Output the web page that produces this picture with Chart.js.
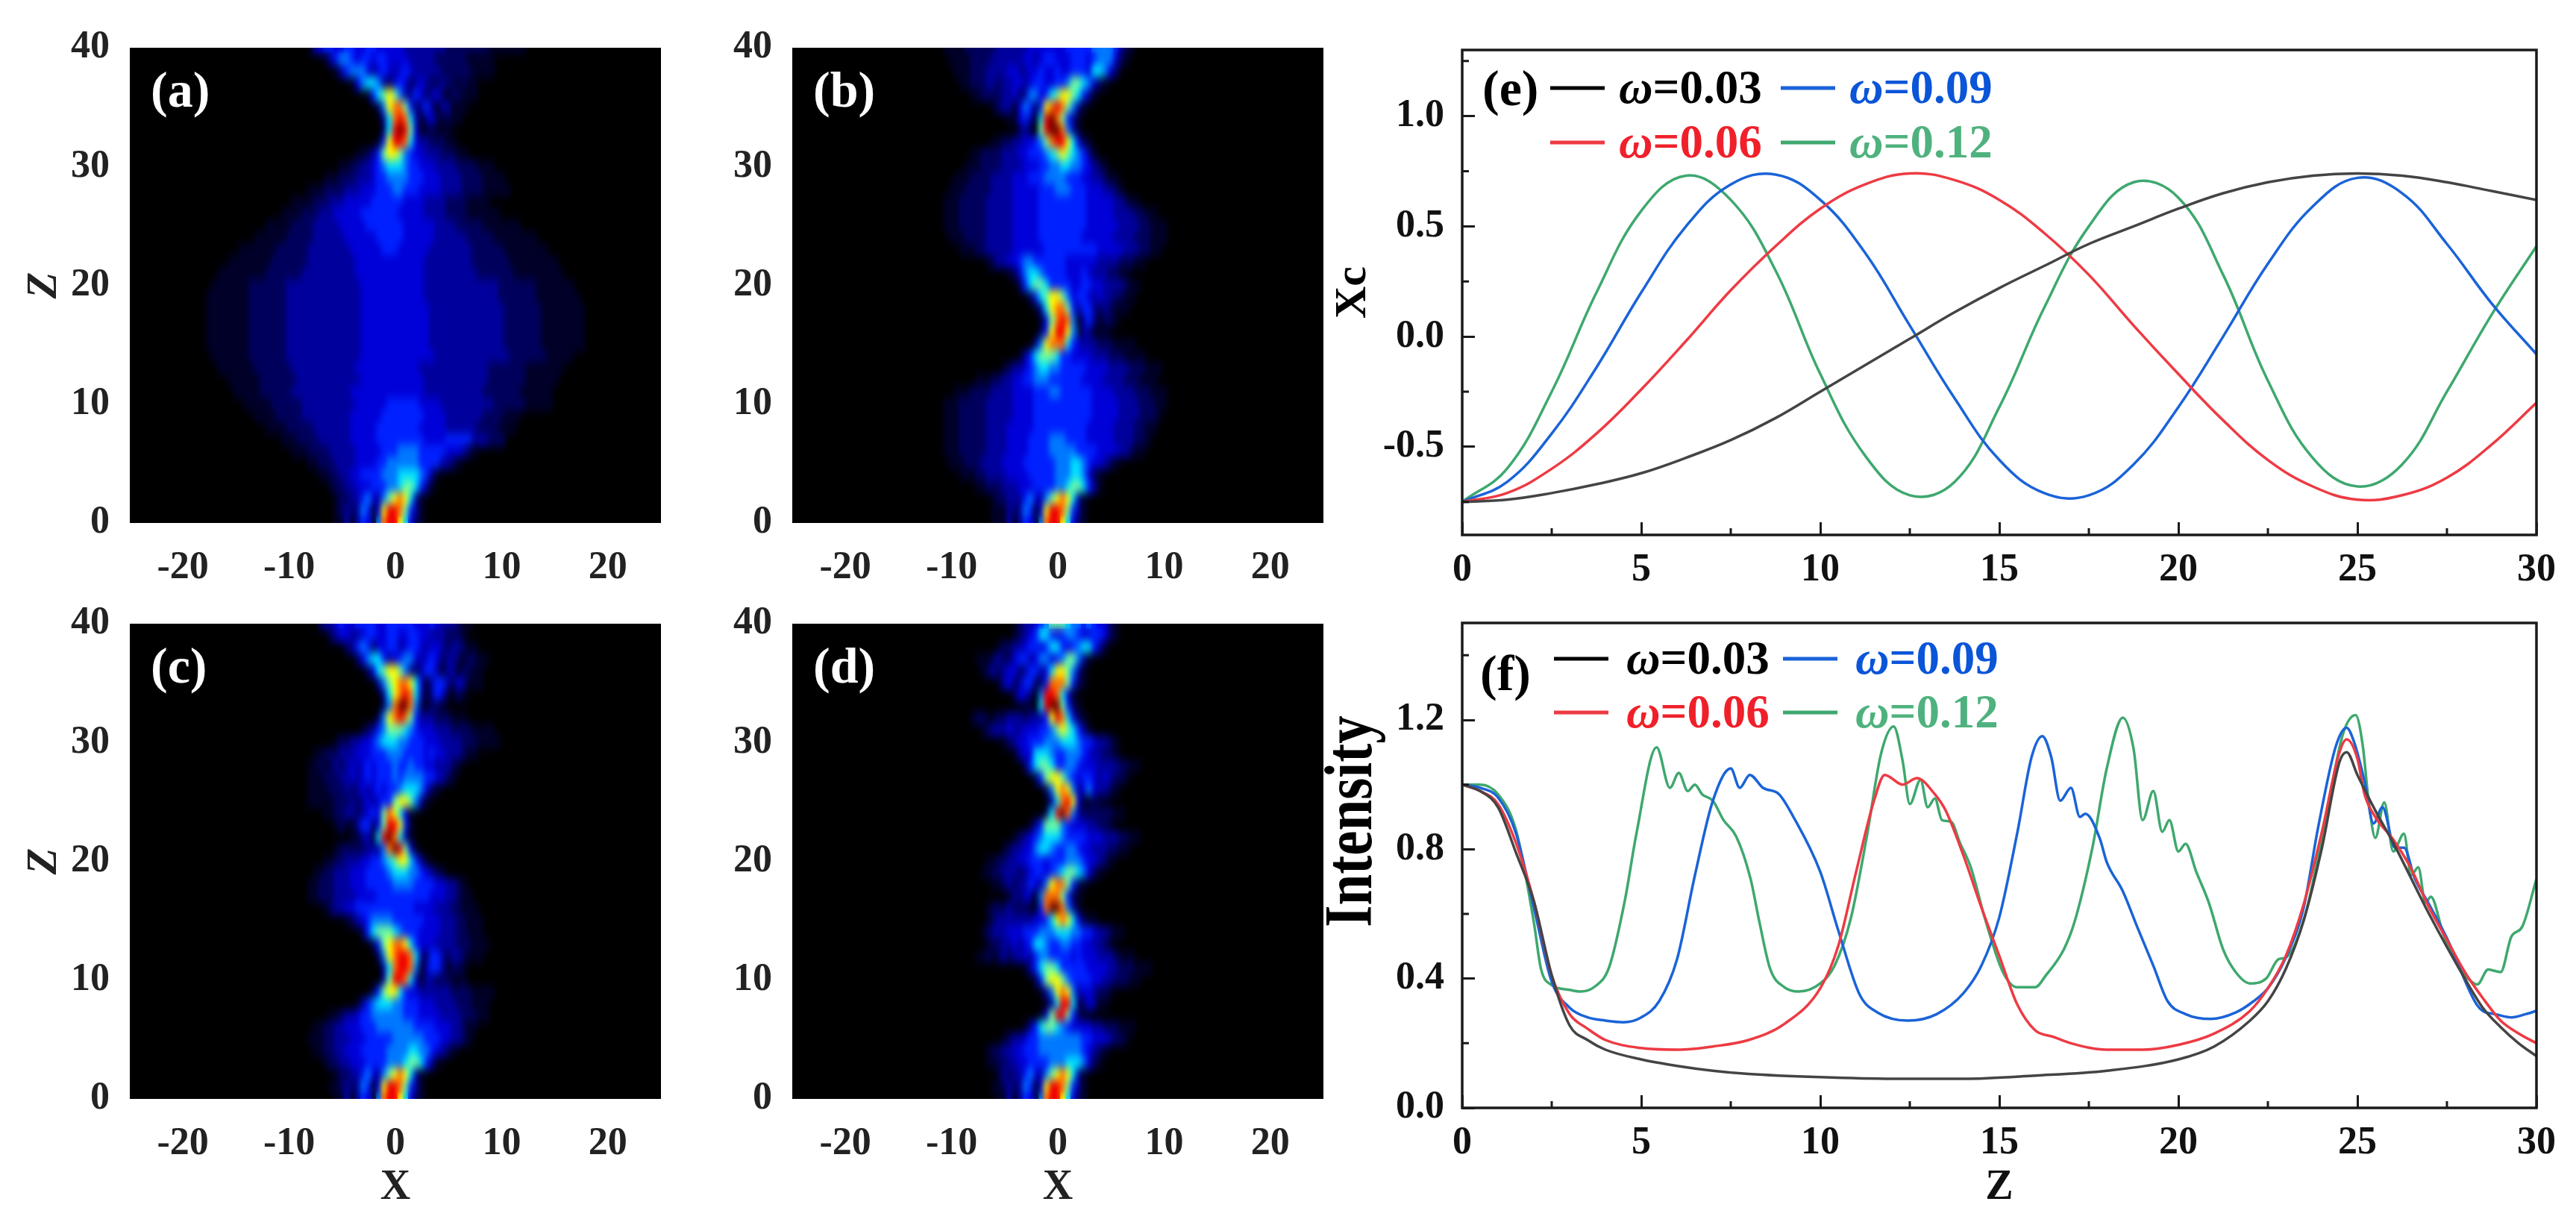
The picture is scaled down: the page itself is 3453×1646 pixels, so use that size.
<!DOCTYPE html>
<html>
<head>
<meta charset="utf-8">
<script src="https://cdn.jsdelivr.net/npm/chart.js@4"></script>
<style>
  html, body { margin: 0; padding: 0; background: #fff; width: 3453px; height: 1646px; overflow: hidden; }
  canvas { position: absolute; }
  svg { position: absolute; width: 0; height: 0; }
</style>
</head>
<body>
<svg><filter id="soft" x="0" y="0" width="100%" height="100%" color-interpolation-filters="sRGB"><feGaussianBlur stdDeviation="3.5 6.5" edgeMode="duplicate"/></filter></svg>
<canvas id="a"></canvas><canvas id="b"></canvas><canvas id="c"></canvas><canvas id="d"></canvas><canvas id="e"></canvas><canvas id="f"></canvas>
<script>
// tick labels
const heatXTicks = [-20, -10, 0, 10, 20];
const heatZTicks = [0, 10, 20, 30, 40];
const lineZTicks = [0, 5, 10, 15, 20, 25, 30];
const lineZMinor = [2.5, 7.5, 12.5, 17.5, 22.5, 27.5];
const xcTicks = [-0.5, 0, 0.5, 1];
const xcMinor = [-0.75, -0.25, 0.25, 0.75, 1.25];
const intTicks = [0, 0.4, 0.8, 1.2];
const intMinor = [0.2, 0.6, 1, 1.4];

// intensity levels of the maps, 0 is black, c is the darkest red
const heatColors = ['#000000', '#000028', '#00005c', '#00009c', '#0000d8', '#0020ff', '#0078ff', '#00e0ff', '#70ffa0', '#ffff00', '#ff7000', '#f00000', '#700000'];

// one row per z from 40 down to 0: first x of the row, then a level every 0.5 in x
const heatA = [
  [-8, '13455445544554444433333333222222221111111'],
  [-6.5, '13566545545544443333322222211111'],
  [-5.5, '135666434543454333332222221111'],
  [-4, '146776324542343223221211'],
  [-2.5, '157898633542342122111'],
  [-1.5, '269aa852353133111'],
  [-1, '37aba7303421211'],
  [-1, '27bcb84112111'],
  [-1.5, '159bba743322211'],
  [-3.5, '112358998654433322211'],
  [-5, '11223345677765544433332222111'],
  [-6.5, '1112223334556666555444333322221111'],
  [-8, '11122223334445556655544443333222211111'],
  [-9.5, '1111222333444445555554444333322221111'],
  [-10.5, '11112223334444455555554444433332222111111'],
  [-12, '111112222333334444455555554444443333222221111111'],
  [-13, '11111122222333333444444555554444443333332222211111111'],
  [-14.5, '1111111222222333333334444445554444443333333322222211111111'],
  [-15.5, '11111111222222233333333344444444444443333333332222222111111111'],
  [-16.5, '11111111122222223333333333444444444444433333333332222222111111111'],
  [-17, '11111112222222333333333333334444444444443333333333333322222221111111'],
  [-17.5, '1111111122222223333333333333344444444444433333333333333222222211111111'],
  [-17.5, '11111111222222233333333333333444444444444433333333333333222222211111111'],
  [-17.5, '11111111222222233333333333333444444444444433333333333333222222211111111'],
  [-17.5, '11111111222222233333333333333444444444444433333333333333222222211111111'],
  [-17.5, '11111111222222233333333333333444444444444433333333333333222222211111111'],
  [-17, '11111112222222333333333333334444444444444433333333333333222222211111'],
  [-16.5, '11111112222222333333333333444444444444333333333333322222221111111'],
  [-15.5, '11111122222223333333333334444444444443333333333332222222111111'],
  [-15, '111112222223333333333344444444444444333333333332222222111111'],
  [-14, '1111122222233333333334444445555554444333333333322222211111'],
  [-13, '11112222233333333344444455555555444433333332222111'],
  [-12, '11112222233333334444455555555444443333332222111'],
  [-10.5, '111222233333344444555555555444455555333222'],
  [-9.5, '11122223333344444555666655555444321'],
  [-8, '11222333344445566666655553321'],
  [-7, '11223344555566677776531'],
  [-6, '12233444555667887531'],
  [-5.5, '122335643689a9731'],
  [-5.5, '1232365149bba8531'],
  [-5.5, '113135406abb97421']
];
const heatB = [
  [-10.5, '111122222233333344444445555566665321'],
  [-10, '1111222233333344345544455545666421'],
  [-9.5, '1112223333443344544544555477642'],
  [-9, '1122233233443455445568876421'],
  [-8, '112222334236645789987531'],
  [-6, '12331465259aba8631'],
  [-4.5, '1145307bca8531'],
  [-3.5, '23108bcca631'],
  [-6, '11223344568abb97421'],
  [-8, '112222333445556789876531'],
  [-8.5, '111222233334445566776654321'],
  [-9.5, '1112222333344455566665554433211'],
  [-10, '111222223333444445556665554443321'],
  [-10.5, '1112222233333444445555555554444433211'],
  [-10.5, '1112222233333444445555555554444433332211'],
  [-10.5, '111222223333344444555555555444444333322111'],
  [-10, '11122223333344444555555554444443333222111'],
  [-9, '11122333334444445555555555444443332211'],
  [-6.5, '123344566555555444444333322211'],
  [-4.5, '12467765555444543332211'],
  [-3.5, '25788755554455443333211'],
  [-2.5, '25789986455434332211'],
  [-2, '1379aa853553232111'],
  [-1.5, '148aba613531221'],
  [-1.5, '259bb96033111'],
  [-2, '369aaa7543332221111'],
  [-3.5, '135788875544443332221111'],
  [-5, '123345677665555544443333222111'],
  [-7.5, '1112233445566655555544443333222111'],
  [-9.5, '1112222333344445556655555544443333222111'],
  [-10.5, '111222223333344445555555555544444333322211'],
  [-10.5, '11122222333334444555555555554444433332221'],
  [-10.5, '1112222233334444455555555554444433332211'],
  [-10.5, '111222223333444455556665555444443333221'],
  [-10.5, '11122222333344445555666665555444433211'],
  [-10, '11122233334444555555666776544321'],
  [-9, '111223333444455555666776421'],
  [-7.5, '112223334445555667887531'],
  [-6, '1223335643689a9731'],
  [-6, '11132365149bba8531'],
  [-6, '1113135406abb97421']
];
const heatC = [
  [-7, '23345445555445555544454333211'],
  [-6, '23443345544554455443332221'],
  [-4.5, '2356524455345543443233211'],
  [-3.5, '2467753456643454233212211'],
  [-2.5, '2478998632355313312211'],
  [-1.5, '3689aa97413553243111'],
  [-1, '379aba7303541121'],
  [-1, '26acca621221'],
  [-1.5, '269aba85333222111'],
  [-3, '1235688876544433322221111'],
  [-5.5, '1223344567776655544433332221111'],
  [-7.5, '1122233344455566655554544333211'],
  [-8, '11212323434545556556554433321'],
  [-8, '1112223343454555656666554321'],
  [-8, '1111222323434545567776421'],
  [-8, '11111222323434558998631'],
  [-6.5, '112233234548a9741'],
  [-5.5, '1211355248bb951'],
  [-4, '113307bca731'],
  [-5.5, '1222223336acb841'],
  [-6.5, '11223334455678997531'],
  [-7.5, '1122333444555567776654321'],
  [-8, '112223334445555566665555443321'],
  [-8, '1122233334444555555555544433211'],
  [-6.5, '12334455555555555444433322111'],
  [-4.5, '12345666655555544433322111'],
  [-3, '25788876555444433322111'],
  [-2, '2589aa9754443333222111'],
  [-1.5, '269abba7325532332111'],
  [-1, '37abba6135531221'],
  [-1, '38bba73033222111'],
  [-2, '25899754433333322221111'],
  [-3.5, '1356777665554443333222111'],
  [-6, '112334556666665554444333322211'],
  [-7.5, '1122334445556666666555544433211'],
  [-8, '1112233344455555666666555443321'],
  [-7.5, '112233444555556666776654321'],
  [-6.5, '1223344455556667887531'],
  [-5.5, '122335643689a9731'],
  [-6, '11232365149bba8531'],
  [-5.5, '113135406abb97421']
];
const heatD = [
  [-4, '12334568887665654421'],
  [-4, '12345775456654455421'],
  [-5.5, '122334554577545677531'],
  [-7.5, '1112322455346645688631'],
  [-7, '12323442355347998631'],
  [-5.5, '1342355225aaa8521'],
  [-4, '244206bba741'],
  [-3, '1107bcc8521'],
  [-8, '1221122333233359ba7421'],
  [-7, '123334334445568987531'],
  [-5, '1234455566677765543321'],
  [-4, '13447776556665433221'],
  [-3, '2578875566544433332211'],
  [-2, '258998654554343221'],
  [-1, '269a9634643321'],
  [-0.5, '37ab9411211'],
  [-1, '27bca6322222211'],
  [-2.5, '1358886544433221'],
  [-4, '123456777655554443332211'],
  [-5, '123344677655665443332211'],
  [-6.5, '112233445554555666544321'],
  [-7, '11223332345545678876421'],
  [-6, '112323354369aa8521'],
  [-4.5, '1324316aaa8521'],
  [-6.5, '12223222115acca631'],
  [-6.5, '12333333344579a974211'],
  [-7, '123334445556667776655433211'],
  [-6.5, '122334345776556655443321'],
  [-7.5, '112123233435665555454443332111'],
  [-3, '135788755555444433222111'],
  [-2, '25899865555443322211'],
  [-1.5, '1369a963443221'],
  [-1, '137bb7224311'],
  [-1.5, '148bb8521'],
  [-3, '135788765444433222111'],
  [-5, '123345566666666554443221'],
  [-6.5, '12233445556666666654321'],
  [-6.5, '1122334455556667776421'],
  [-5.5, '132335643689a9731'],
  [-6, '11232365149bba8531'],
  [-5.5, '113135406abb97421']
];

// panel (e)
const xcZ = [0, 1.25, 2.5, 3.75, 5, 6.25, 7.5, 8.75, 10, 11.25, 12.5, 13.75, 15, 16.25, 17.5, 18.75, 20, 21.25, 22.5, 23.75, 25, 26.25, 27.5, 28.75, 30];
const xcBlack = [-0.75, -0.74, -0.71, -0.67, -0.62, -0.55, -0.47, -0.37, -0.25, -0.13, -0.01, 0.11, 0.22, 0.32, 0.42, 0.5, 0.58, 0.65, 0.7, 0.73, 0.74, 0.73, 0.7, 0.66, 0.62];
const xcRed = [-0.75, -0.71, -0.6, -0.44, -0.24, -0.02, 0.21, 0.41, 0.58, 0.69, 0.74, 0.71, 0.62, 0.47, 0.28, 0.05, -0.17, -0.38, -0.56, -0.68, -0.74, -0.72, -0.64, -0.49, -0.3];
const xcBlue = [-0.75, -0.66, -0.44, -0.14, 0.2, 0.5, 0.69, 0.735, 0.62, 0.38, 0.05, -0.28, -0.56, -0.71, -0.72, -0.58, -0.32, 0, 0.33, 0.59, 0.72, 0.65, 0.42, 0.15, -0.08];
const xcGreen = [-0.75, -0.6, -0.25, 0.2, 0.57, 0.73, 0.62, 0.3, -0.17, -0.54, -0.72, -0.66, -0.32, 0.13, 0.5, 0.7, 0.63, 0.28, -0.2, -0.55, -0.68, -0.58, -0.25, 0.1, 0.41];

// panel (f)
const intBlackZ = [0, 0.5, 1, 1.5, 2, 2.5, 3, 3.5, 4, 5, 6, 7, 8, 10, 12, 14, 16, 18, 20, 21, 22, 22.5, 23, 23.5, 24, 24.5, 24.7, 25, 25.5, 26, 27, 28, 28.5, 29, 29.5, 30];
const intBlack = [1, 0.98, 0.93, 0.79, 0.64, 0.41, 0.255, 0.21, 0.18, 0.15, 0.13, 0.115, 0.105, 0.095, 0.09, 0.09, 0.1, 0.115, 0.15, 0.19, 0.27, 0.33, 0.43, 0.58, 0.8, 1.07, 1.1, 1.03, 0.92, 0.82, 0.6, 0.4, 0.31, 0.25, 0.2, 0.16];
const intRedZ = [0, 0.5, 1, 1.5, 2, 2.5, 3, 3.5, 4, 5, 6, 7, 8, 9, 10, 10.5, 11, 11.5, 11.8, 12.3, 12.7, 13.2, 13.5, 14, 14.5, 15, 15.5, 16, 16.5, 17, 18, 19, 20, 21, 22, 22.5, 23, 23.5, 24, 24.5, 24.7, 25, 25.2, 25.5, 26, 26.5, 27, 27.5, 28, 28.5, 29, 29.5, 30];
const intRed = [1, 0.98, 0.94, 0.82, 0.64, 0.41, 0.29, 0.245, 0.21, 0.185, 0.18, 0.19, 0.21, 0.26, 0.37, 0.5, 0.73, 0.95, 1.03, 1, 1.02, 0.97, 0.92, 0.78, 0.62, 0.47, 0.32, 0.24, 0.22, 0.2, 0.18, 0.18, 0.195, 0.23, 0.3, 0.37, 0.47, 0.63, 0.85, 1.1, 1.14, 1.08, 0.97, 0.9, 0.83, 0.74, 0.62, 0.52, 0.42, 0.34, 0.27, 0.23, 0.2];
const intBlueZ = [0, 0.5, 1, 1.5, 2, 2.5, 3, 3.5, 4, 4.5, 5, 5.5, 6, 6.5, 7, 7.5, 7.75, 8.03, 8.4, 8.85, 9.25, 10, 10.5, 11.1, 11.6, 12.45, 13.25, 14, 14.5, 15, 15.5, 15.9, 16.2, 16.45, 16.7, 17, 17.25, 17.4, 17.8, 18, 18.45, 18.85, 19.3, 19.7, 20.2, 20.9, 21.6, 22.1, 22.5, 23, 23.5, 23.9, 24.4, 24.7, 24.9, 25.2, 25.45, 25.7, 26.05, 26.3, 26.6, 27, 27.5, 28.3, 28.5, 28.85, 29.3, 29.7, 30];
const intBlue = [1, 0.99, 0.96, 0.85, 0.62, 0.39, 0.31, 0.28, 0.27, 0.265, 0.28, 0.33, 0.46, 0.72, 0.95, 1.05, 0.99, 1.03, 0.99, 0.97, 0.9, 0.73, 0.55, 0.35, 0.295, 0.27, 0.29, 0.355, 0.44, 0.59, 0.85, 1.085, 1.15, 1.085, 0.95, 0.99, 0.9, 0.91, 0.835, 0.76, 0.67, 0.56, 0.44, 0.33, 0.29, 0.275, 0.295, 0.33, 0.37, 0.465, 0.62, 0.866, 1.12, 1.176, 1.134, 1.01, 0.88, 0.93, 0.805, 0.805, 0.71, 0.63, 0.525, 0.325, 0.3, 0.29, 0.28, 0.29, 0.3];
const intGreenZ = [0, 0.5, 1, 1.5, 2, 2.2, 2.5, 3, 3.3, 3.7, 4.1, 4.55, 4.86, 5.43, 5.8, 6.05, 6.3, 6.5, 6.7, 7, 7.3, 7.65, 8.05, 8.3, 8.6, 9, 9.4, 10, 10.4, 10.85, 11.3, 11.7, 12.05, 12.3, 12.5, 12.8, 13, 13.2, 13.4, 13.65, 13.9, 14.2, 14.6, 15.1, 15.5, 16, 16.3, 16.8, 17.1, 17.6, 18, 18.45, 18.75, 19, 19.3, 19.55, 19.75, 20, 20.2, 20.5, 20.85, 21.25, 21.6, 22, 22.45, 22.8, 23, 23.55, 24.1, 24.6, 24.95, 25.15, 25.3, 25.5, 25.75, 26, 26.3, 26.5, 26.7, 26.9, 27.05, 27.4, 27.8, 28, 28.35, 28.65, 29, 29.3, 29.6, 30];
const intGreen = [1, 1, 0.97, 0.86, 0.575, 0.43, 0.38, 0.365, 0.36, 0.375, 0.434, 0.646, 0.845, 1.115, 0.99, 1.036, 0.98, 1, 0.97, 0.95, 0.89, 0.84, 0.71, 0.575, 0.43, 0.373, 0.36, 0.385, 0.44, 0.585, 0.84, 1.097, 1.18, 1.073, 0.94, 1.015, 0.93, 0.957, 0.89, 0.885, 0.82, 0.745, 0.585, 0.42, 0.373, 0.373, 0.41, 0.49, 0.575, 0.805, 1.05, 1.207, 1.11, 0.89, 0.98, 0.854, 0.89, 0.793, 0.817, 0.73, 0.635, 0.49, 0.42, 0.385, 0.4, 0.46, 0.465, 0.6, 0.89, 1.158, 1.215, 1.12, 0.963, 0.835, 0.945, 0.793, 0.848, 0.72, 0.744, 0.635, 0.653, 0.537, 0.44, 0.41, 0.382, 0.428, 0.42, 0.53, 0.56, 0.708];

const legendNames = ['=0.03', '=0.06', '=0.09', '=0.12'];
const lineColors = ['#444444', '#ee3a43', '#1a63d8', '#3ea86e'];
const textColors = ['#000000', '#f0202a', '#0a55d8', '#4fb27e'];

const SERIF = '"Liberation Serif"';
const TICK_FONT = { family: SERIF, size: 52, weight: 'bold' };

// small filled tiles, one per level, used as point styles of the map cells
const tiles = heatColors.map(c => {
    const t = document.createElement('canvas');
    t.width = 9;
    t.height = 18;
    const g = t.getContext('2d');
    g.fillStyle = c;
    g.fillRect(0, 0, 9, 18);
    return t;
});

function heatCells(rows) {
    const cells = [];
    rows.forEach((row, i) => {
        const z = 40 - i;
        [...row[1]].forEach((ch, j) => {
            const v = parseInt(ch, 16);
            if (v > 0) cells.push({ x: row[0] + 0.5 * j, y: z, v: v });
        });
    });
    return cells;
}

function xy(zs, vs) {
    return zs.map((z, i) => ({ x: z, y: vs[i] }));
}

// black ground under the cells, soft pass over them afterwards
const heatPlugin = {
    id: 'heat',
    beforeDatasetsDraw(chart) {
        const a = chart.chartArea;
        chart.ctx.fillStyle = '#000';
        chart.ctx.fillRect(a.left, a.top, a.width, a.height);
    },
    afterDatasetsDraw(chart) {
        const a = chart.chartArea;
        const ctx = chart.ctx;
        ctx.save();
        ctx.beginPath();
        ctx.rect(a.left, a.top, a.width, a.height);
        ctx.clip();
        ctx.filter = 'url(#soft)';
        ctx.drawImage(chart.canvas, a.left, a.top, a.width, a.height, a.left, a.top, a.width, a.height);
        ctx.restore();
    }
};

// frame and short inward ticks of the line panels
const framePlugin = {
    id: 'frame',
    afterDraw(chart, args, opts) {
        const ctx = chart.ctx;
        const a = chart.chartArea;
        const sx = chart.scales.x;
        const sy = chart.scales.y;
        ctx.save();
        ctx.strokeStyle = '#1a1a1a';
        ctx.lineWidth = 3;
        ctx.beginPath();
        opts.xMinor.forEach(v => {
            const p = sx.getPixelForValue(v);
            ctx.moveTo(p, a.bottom);
            ctx.lineTo(p, a.bottom - 9);
        });
        opts.yMinor.forEach(v => {
            const p = sy.getPixelForValue(v);
            ctx.moveTo(a.left, p);
            ctx.lineTo(a.left + 9, p);
        });
        ctx.stroke();
        ctx.lineWidth = 3.5;
        ctx.strokeRect(a.left, a.top, a.width, a.height);
        ctx.restore();
    }
};

// panel letter, legend and the off-centre title, placed in page pixels
const notesPlugin = {
    id: 'notes',
    afterDraw(chart, args, opts) {
        const ctx = chart.ctx;
        const ox = opts.ox;
        const oy = opts.oy;
        ctx.save();
        ctx.textBaseline = 'alphabetic';
        ctx.textAlign = 'left';
        ctx.font = 'bold 68px ' + SERIF;
        ctx.fillStyle = opts.letterColor;
        ctx.fillText(opts.letter, opts.letterX - ox, opts.letterY - oy);
        if (opts.legend) {
            const L = opts.legend;
            [[0, L.x1, L.y1], [1, L.x1, L.y2], [2, L.x2, L.y1], [3, L.x2, L.y2]].forEach(item => {
                const k = item[0];
                const x = item[1] - ox;
                const y = item[2] - oy;
                ctx.fillStyle = lineColors[k] === '#444444' ? '#000' : lineColors[k];
                ctx.fillRect(x, y - L.drop - 2.5, 73, 5);
                ctx.fillStyle = textColors[k];
                ctx.font = 'italic bold 63px ' + SERIF;
                const tx = x + L.gap;
                ctx.fillText('\u03c9', tx, y);
                const w = ctx.measureText('\u03c9').width;
                ctx.font = 'bold 63px ' + SERIF;
                ctx.fillText(legendNames[k], tx + w, y);
            });
        }
        if (opts.sideTitle) {
            ctx.translate(opts.sideTitle.x - ox, opts.sideTitle.y - oy);
            ctx.rotate(-Math.PI / 2);
            ctx.scale(1, 1.2);
            ctx.textAlign = 'center';
            ctx.textBaseline = 'middle';
            ctx.fillStyle = '#000';
            ctx.font = 'bold 75px ' + SERIF;
            ctx.fillText(opts.sideTitle.text, 0, 0);
        }
        ctx.restore();
    }
};

function place(id, box) {
    const c = document.getElementById(id);
    c.width = box.w;
    c.height = box.h;
    c.style.left = box.x + 'px';
    c.style.top = box.y + 'px';
    c.style.width = box.w + 'px';
    c.style.height = box.h + 'px';
    return c;
}

function setTicks(values) {
    return scale => { scale.ticks = values.map(v => ({ value: v })); };
}

function fixedHeight(h) {
    return scale => { scale.height = h; scale.paddingLeft = 0; scale.paddingRight = 0; };
}

function fixedWidth(w) {
    return scale => { scale.width = w; scale.paddingTop = 0; scale.paddingBottom = 0; };
}

function heatChart(p) {
    const c = place(p.id, p.box);
    const ml = p.left - p.box.x;
    const mt = p.top - p.box.y;
    const mb = p.box.y + p.box.h - p.top - 637;
    const mr = p.box.x + p.box.w - p.left - 712;
    new Chart(c, {
        type: 'scatter',
        data: {
            datasets: [{
                data: heatCells(p.rows),
                pointStyle: ctx => tiles[ctx.raw ? ctx.raw.v : 0],
                pointRadius: 5,
                pointHoverRadius: 5,
                borderWidth: 0
            }]
        },
        plugins: [heatPlugin, notesPlugin],
        options: {
            responsive: false,
            animation: false,
            devicePixelRatio: 1,
            events: [],
            layout: { padding: { top: mt, right: mr, left: 0, bottom: 0 } },
            plugins: {
                legend: { display: false },
                tooltip: { enabled: false },
                notes: { ox: p.box.x, oy: p.box.y, letter: p.letter, letterColor: '#fff', letterX: p.left + 28, letterY: p.top + 79 }
            },
            scales: {
                x: {
                    type: 'linear', min: -25, max: 25,
                    afterBuildTicks: setTicks(heatXTicks),
                    afterFit: fixedHeight(mb),
                    grid: { display: false },
                    border: { display: false },
                    ticks: { font: TICK_FONT, color: '#222', padding: 21, maxRotation: 0, autoSkip: false },
                    title: { display: p.xTitle, text: 'X', color: '#222', font: { family: SERIF, size: 56, weight: 'bold' }, padding: { top: 0, bottom: 20 } }
                },
                y: {
                    type: 'linear', min: 0, max: 40,
                    afterBuildTicks: setTicks(heatZTicks),
                    afterFit: fixedWidth(ml),
                    grid: { display: false },
                    border: { display: false },
                    ticks: { font: TICK_FONT, color: '#222', padding: 19, autoSkip: false },
                    title: { display: p.zTitle, text: 'Z', color: '#222', font: { family: SERIF, size: 58, weight: 'bold', style: 'italic' }, padding: { top: 25, bottom: 0 } }
                }
            }
        }
    });
}

function lineChart(p) {
    const c = place(p.id, p.box);
    const ml = p.left - p.box.x;
    const mt = p.top - p.box.y;
    const mb = p.box.y + p.box.h - p.top - 650;
    const mr = p.box.x + p.box.w - p.left - 1440;
    new Chart(c, {
        type: 'scatter',
        data: {
            datasets: p.series.map((d, i) => ({
                data: d,
                showLine: true,
                borderColor: lineColors[i],
                borderWidth: 3.5,
                pointRadius: 0,
                tension: 0.4,
                cubicInterpolationMode: p.curve
            }))
        },
        plugins: [framePlugin, notesPlugin],
        options: {
            responsive: false,
            animation: false,
            devicePixelRatio: 1,
            events: [],
            layout: { padding: { top: mt, right: mr, left: 0, bottom: 0 } },
            plugins: {
                legend: { display: false },
                tooltip: { enabled: false },
                frame: { xMinor: lineZMinor, yMinor: p.yMinor },
                notes: p.notes
            },
            scales: {
                x: {
                    type: 'linear', min: 0, max: 30,
                    afterBuildTicks: setTicks(lineZTicks),
                    afterFit: fixedHeight(mb),
                    grid: { drawOnChartArea: false, tickLength: -17, tickWidth: 3, tickColor: '#1a1a1a' },
                    border: { display: false },
                    ticks: { font: TICK_FONT, color: '#111', padding: 33, maxRotation: 0, autoSkip: false },
                    title: { display: p.xTitle, text: 'Z', color: '#111', font: { family: SERIF, size: 56, weight: 'bold' }, padding: { top: 0, bottom: 20 } }
                },
                y: {
                    type: 'linear', min: p.yMin, max: p.yMax,
                    afterBuildTicks: setTicks(p.yTicks),
                    afterFit: fixedWidth(ml),
                    grid: { drawOnChartArea: false, tickLength: -17, tickWidth: 3, tickColor: '#1a1a1a' },
                    border: { display: false },
                    ticks: { font: TICK_FONT, color: '#111', padding: 41, autoSkip: false, callback: v => v.toFixed(1) },
                    title: { display: p.yTitle !== '', text: p.yTitle, color: '#000', font: { family: SERIF, size: 60, weight: 'bold' }, padding: { top: 8, bottom: 0 } }
                }
            }
        }
    });
}

heatChart({ id: 'a', rows: heatA, letter: '(a)', left: 174, top: 64, box: { x: 0, y: 0, w: 905, h: 800 }, xTitle: false, zTitle: true });
heatChart({ id: 'b', rows: heatB, letter: '(b)', left: 1062, top: 64, box: { x: 930, y: 0, w: 860, h: 800 }, xTitle: false, zTitle: false });
heatChart({ id: 'c', rows: heatC, letter: '(c)', left: 174, top: 836, box: { x: 0, y: 800, w: 905, h: 846 }, xTitle: true, zTitle: true });
heatChart({ id: 'd', rows: heatD, letter: '(d)', left: 1062, top: 836, box: { x: 930, y: 800, w: 860, h: 846 }, xTitle: true, zTitle: false });

lineChart({
    id: 'e', left: 1960, top: 67, box: { x: 1770, y: 0, w: 1683, h: 800 }, curve: 'default',
    series: [xy(xcZ, xcBlack), xy(xcZ, xcRed), xy(xcZ, xcBlue), xy(xcZ, xcGreen)],
    yMin: -0.9, yMax: 1.3, yTicks: xcTicks, yMinor: xcMinor, yTitle: 'Xc', xTitle: false,
    notes: { ox: 1770, oy: 0, letter: '(e)', letterColor: '#000', letterX: 1987, letterY: 141,
             legend: { x1: 2078, x2: 2387, y1: 138, y2: 211, drop: 20, gap: 92 } }
});
lineChart({
    id: 'f', left: 1960, top: 835, box: { x: 1770, y: 800, w: 1683, h: 846 }, curve: 'monotone',
    series: [xy(intBlackZ, intBlack), xy(intRedZ, intRed), xy(intBlueZ, intBlue), xy(intGreenZ, intGreen)],
    yMin: 0, yMax: 1.5, yTicks: intTicks, yMinor: intMinor, yTitle: '', xTitle: true,
    notes: { ox: 1770, oy: 800, letter: '(f)', letterColor: '#000', letterX: 1984, letterY: 925,
             sideTitle: { text: 'Intensity', x: 1815, y: 1101 },
             legend: { x1: 2083, x2: 2390, y1: 903, y2: 975, drop: 20, gap: 97 } }
});
</script>
</body>
</html>
